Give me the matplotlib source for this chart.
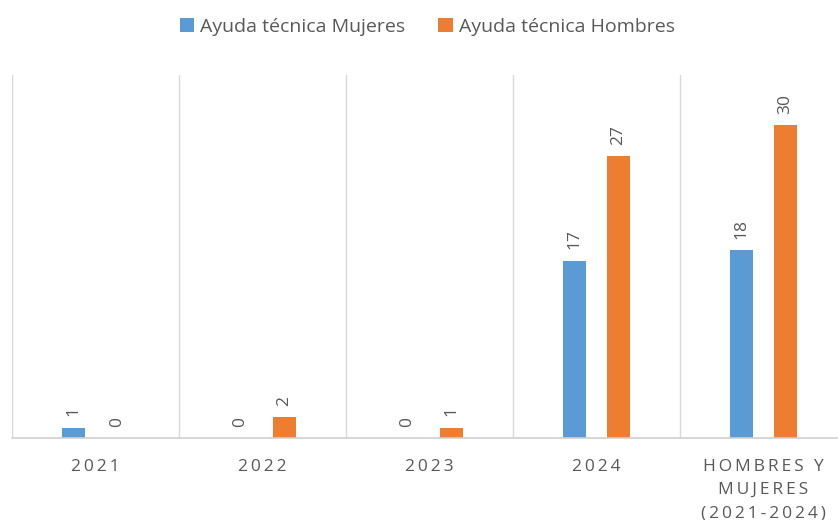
import numpy as np
import matplotlib.pyplot as plt

categories = ["2021", "2022", "2023", "2024", "HOMBRES Y\nMUJERES\n(2021-2024)"]
mujeres = [1, 0, 0, 17, 18]
hombres = [0, 2, 1, 27, 30]

blue = "#5B9BD5"
orange = "#ED7D31"
gray = "#595959"


def spaced(s):
    # imitate the letter spacing of the original
    return "\n".join("\u2009".join(line) for line in s.split("\n"))


plt.rcParams['font.family'] = ['Open Sans', 'DejaVu Sans']

fig = plt.figure(figsize=(8.38, 5.2), dpi=100)
ax = fig.add_axes([12 / 838, (520 - 438) / 520, 835 / 838, (438 - 75) / 520])

x = np.arange(len(categories))
w = 0.138
off = 0.132

b1 = ax.bar(x - off, mujeres, w, color=blue, label="Ayuda técnica Mujeres")
b2 = ax.bar(x + off, hombres, w, color=orange, label="Ayuda técnica Hombres")

for bars, vals in [(b1, mujeres), (b2, hombres)]:
    for rect, v in zip(bars, vals):
        ax.text(rect.get_x() + rect.get_width() / 2, v + 1.1, str(v),
                rotation=90, ha="center", va="bottom", fontsize=12.5, color=gray)

ax.set_xlim(-0.5, len(categories) - 0.5)
ax.set_ylim(0, 34.8)

# category separators
for b in np.arange(-0.5, len(categories) + 0.5, 1):
    ax.axvline(b, color="#d9d9d9", lw=1, zorder=0)

for s in ["top", "right", "left"]:
    ax.spines[s].set_visible(False)
ax.spines["bottom"].set_color("#d0d0d0")
ax.spines["bottom"].set_linewidth(1.2)

ax.set_yticks([])
ax.set_xticks(x)
ax.set_xticklabels([spaced(c) for c in categories], fontsize=12.5, color=gray,
                   linespacing=1.6)
ax.tick_params(axis="x", length=0, pad=15)

fig.legend(loc="upper center", bbox_to_anchor=(0.51, 1.0), ncol=2, frameon=False,
           fontsize=14, handlelength=0.75, handleheight=0.75, handletextpad=0.3,
           columnspacing=1.7, labelcolor=gray)

fig.savefig("out.png", dpi=100)
